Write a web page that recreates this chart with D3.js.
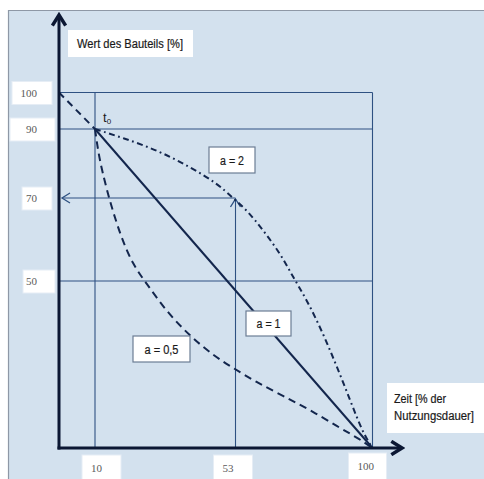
<!DOCTYPE html>
<html><head><meta charset="utf-8">
<script src="https://cdn.jsdelivr.net/npm/d3@7"></script>
<style>
html,body{margin:0;padding:0;background:#fff;}
svg{display:block;}
</style></head>
<body>
<script>
// ---- data ----
const xTicks = [10, 53, 100];
const yTicks = [100, 90, 70, 50];
const startSegment = [[0, 100], [10, 90]];          // dashed lead-in
const curveA1 = [[10, 90], [100, 0]];                // a = 1 (linear)
const curveA2 = [[10, 90], [18.6, 87.4], [29.0, 83.9], [39.1, 79.0], [47.3, 74.3], [52.2, 70],
  [56.9, 67.1], [62.4, 62.3], [68.3, 56.7], [72.7, 51.0], [77.5, 44.3], [83.0, 34.4], [87.8, 24.3],
  [92.3, 14.4], [96.7, 4.5], [100, 0]];
const curveA05 = [[10, 90], [10.9, 83.9], [12.1, 78.1], [14.6, 69.0], [17.8, 61.0], [21.5, 54.0],
  [25.9, 49.1], [32.0, 40.7], [39.1, 33.5], [46.1, 27.8], [52.2, 24.0], [60.0, 19.8], [69.3, 15.6],
  [78.6, 11.4], [88.2, 6.3], [95.0, 3.0], [100, 0]];
const readX = 53, readY = 70;                        // reading example
const seriesLabels = ["a = 2", "a = 1", "a = 0,5"];
const yTitle = "Wert des Bauteils [%]";
const xTitle = ["Zeit [% der", "Nutzungsdauer]"];

// ---- drawing ----
const W = 484, H = 479;
const svg = d3.select("body").append("svg").attr("width", W).attr("height", H);

const x = d3.scaleLinear().domain([0, 10, 53, 100]).range([59, 95, 235.5, 372.5]);
const y = d3.scaleLinear().domain([0, 50, 70, 90, 100]).range([448, 281, 198, 129, 92.5]);

const navy = "#13264d", grid = "#2e5182";

// background panel
svg.append("rect").attr("x", 8).attr("y", 10).attr("width", W - 8).attr("height", H - 10)
  .attr("fill", "#d3e1ee");
svg.append("line").attr("x1", 8).attr("x2", W).attr("y1", 10.5).attr("y2", 10.5).attr("stroke", "#8e98a6").attr("stroke-width", 1.2);
svg.append("line").attr("x1", 8.5).attr("x2", 8.5).attr("y1", 10).attr("y2", H).attr("stroke", "#8e98a6").attr("stroke-width", 1.2);

// defs for arrows
const defs = svg.append("defs");
function chevron(id, color, size, sw) {
  defs.append("marker").attr("id", id).attr("viewBox", "-10 -6 12 12")
    .attr("refX", 0).attr("refY", 0).attr("markerWidth", size).attr("markerHeight", size)
    .attr("markerUnits", "userSpaceOnUse").attr("orient", "auto")
    .append("path").attr("d", "M-8,-5 L0,0 L-8,5").attr("fill", "none")
    .attr("stroke", color).attr("stroke-width", sw);
}
chevron("axArrow", "#0b1733", 16, 2.6);
chevron("thinArrow", grid, 12, 1.3);

// grid / reference lines
const gl = svg.append("g").attr("stroke", grid).attr("stroke-width", 1.1).attr("fill", "none");
gl.append("line").attr("x1", x(0)).attr("x2", x(100)).attr("y1", y(100)).attr("y2", y(100));
gl.append("line").attr("x1", x(0)).attr("x2", x(100)).attr("y1", y(90)).attr("y2", y(90));
gl.append("line").attr("x1", x(0)).attr("x2", x(100)).attr("y1", y(50)).attr("y2", y(50));
gl.append("line").attr("x1", x(10)).attr("x2", x(10)).attr("y1", y(100)).attr("y2", y(0));
gl.append("line").attr("x1", x(100)).attr("x2", x(100)).attr("y1", y(100)).attr("y2", y(0));
gl.append("line").attr("x1", x(readX)).attr("x2", x(readX)).attr("y1", y(0)).attr("y2", y(readY) + 1)
  .attr("marker-end", "url(#thinArrow)");
gl.append("line").attr("x1", x(readX)).attr("x2", x(0) + 3).attr("y1", y(readY)).attr("y2", y(readY))
  .attr("marker-end", "url(#thinArrow)");

// curves
const line = d3.line().x(d => x(d[0])).y(d => y(d[1]));
const smooth = d3.line().x(d => x(d[0])).y(d => y(d[1])).curve(d3.curveBasis);
svg.append("path").attr("d", line(startSegment)).attr("fill", "none").attr("stroke", navy)
  .attr("stroke-width", 2).attr("stroke-dasharray", "7,5");
svg.append("path").attr("d", line(curveA1)).attr("fill", "none").attr("stroke", navy).attr("stroke-width", 2);
svg.append("path").attr("d", smooth(curveA05)).attr("fill", "none").attr("stroke", navy)
  .attr("stroke-width", 2).attr("stroke-dasharray", "7.5,5");
svg.append("path").attr("d", smooth(curveA2)).attr("fill", "none").attr("stroke", navy)
  .attr("stroke-width", 2).attr("stroke-dasharray", "6,3.5,1.8,3.5");

// axes
svg.append("line").attr("x1", x(0)).attr("x2", x(0)).attr("y1", y(0) + 1.5).attr("y2", 15)
  .attr("stroke", "#0b1733").attr("stroke-width", 3).attr("marker-end", "url(#axArrow)");
svg.append("line").attr("x1", x(0) - 1.5).attr("x2", 402).attr("y1", y(0)).attr("y2", y(0))
  .attr("stroke", "#0b1733").attr("stroke-width", 3).attr("marker-end", "url(#axArrow)");

// tick label boxes
const serif = "'Liberation Serif','Times New Roman',serif";
const sans = "'Liberation Sans',Arial,sans-serif";
const yBox = {100: [12, 52], 90: [10, 55], 70: [22, 52], 50: [23, 55]};
yTicks.forEach(v => {
  const [x0, x1] = yBox[v];
  svg.append("rect").attr("x", x0).attr("y", y(v) - 11).attr("width", x1 - x0).attr("height", 23)
    .attr("fill", "#fff").attr("stroke", "#e6edf5");
  svg.append("text").attr("x", 37).attr("y", y(v) + 4).attr("text-anchor", "end")
    .attr("font-family", serif).attr("font-size", 11).attr("fill", "#5a5a5a").text(v);
});
const xBox = {10: [-13, 26], 53: [-22, 17], 100: [-24, 14]};
xTicks.forEach(v => {
  const [d0, d1] = xBox[v];
  const top = v === 100 ? 453 : 455;
  svg.append("rect").attr("x", x(v) + d0).attr("y", top).attr("width", d1 - d0).attr("height", 30)
    .attr("fill", "#fff").attr("stroke", "#e6edf5");
  svg.append("text").attr("x", x(v) + d0 + 9).attr("y", top + 17)
    .attr("font-family", serif).attr("font-size", 11).attr("fill", "#5a5a5a").text(v);
});

// axis titles
svg.append("rect").attr("x", 68).attr("y", 30).attr("width", 125).attr("height", 27).attr("fill", "#fff");
svg.append("text").attr("x", 77).attr("y", 48).attr("font-family", sans).attr("font-size", 12.5)
  .attr("fill", "#1a1a1a").attr("stroke", "#1a1a1a").attr("stroke-width", 0.2)
  .attr("textLength", 106).attr("lengthAdjust", "spacingAndGlyphs").text(yTitle);
svg.append("rect").attr("x", 387).attr("y", 383).attr("width", W - 387).attr("height", 50).attr("fill", "#fff");
const xLens = [52, 80];
xTitle.forEach((t, i) => {
  svg.append("text").attr("x", 394).attr("y", 403 + i * 17).attr("font-family", sans).attr("font-size", 12)
    .attr("fill", "#1a1a1a").attr("stroke", "#1a1a1a").attr("stroke-width", 0.2)
    .attr("textLength", xLens[i]).attr("lengthAdjust", "spacingAndGlyphs").text(t);
});

// t0 label
const t0 = svg.append("text").attr("x", x(10) + 8).attr("y", y(90) - 7).attr("font-family", sans)
  .attr("font-size", 13).attr("fill", "#1a1a1a");
t0.append("tspan").text("t");
t0.append("tspan").attr("font-size", 8).attr("dy", 2).text("0");

// series labels
const labelBoxes = [[209, 147, 46, 26], [246, 311, 45, 25], [133, 336, 57, 26]];
const labelLens = [24, 24, 34];
seriesLabels.forEach((s, i) => {
  const [bx, by, bw, bh] = labelBoxes[i];
  svg.append("rect").attr("x", bx).attr("y", by).attr("width", bw).attr("height", bh)
    .attr("fill", "#fff").attr("stroke", "#6c7d94").attr("stroke-width", 1.2);
  svg.append("text").attr("x", bx + bw / 2).attr("y", by + bh / 2 + 4.5).attr("text-anchor", "middle")
    .attr("font-family", sans).attr("font-size", 12.5).attr("fill", "#1a1a1a")
    .attr("stroke", "#1a1a1a").attr("stroke-width", 0.2)
    .attr("textLength", labelLens[i]).attr("lengthAdjust", "spacingAndGlyphs").text(s);
});
</script>
</body></html>
